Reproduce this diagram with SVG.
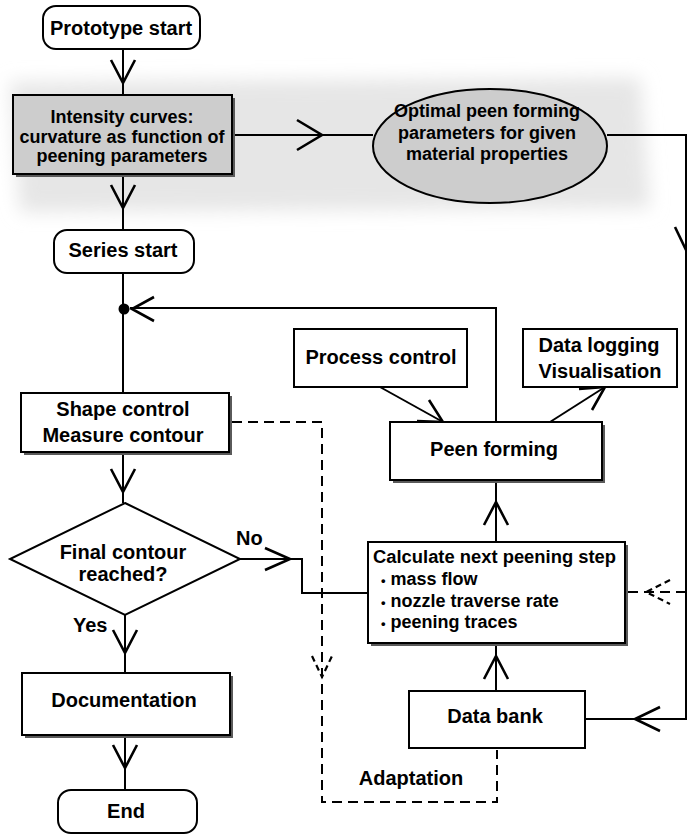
<svg xmlns="http://www.w3.org/2000/svg" width="687" height="836" viewBox="0 0 687 836">
<defs>
<filter id="blur" x="-10%" y="-30%" width="120%" height="160%"><feGaussianBlur stdDeviation="9"/></filter>
<style>
text{font-family:"Liberation Sans",Arial,Helvetica,sans-serif;font-weight:bold;fill:#000;}
.t20{font-size:20px;text-anchor:middle;}
.t18{font-size:18px;text-anchor:middle;}
.box{fill:#fff;stroke:#000;stroke-width:2;}
.gbox{fill:#cdcdcd;stroke:#000;stroke-width:2;}
.sh{fill:#5a5a5a;}
.ln{fill:none;stroke:#000;stroke-width:2;}
.ah{fill:none;stroke:#000;stroke-width:2.6;stroke-linejoin:miter;}
.dl{fill:none;stroke:#000;stroke-width:2;stroke-dasharray:10 6;}
.dah{fill:none;stroke:#000;stroke-width:2.2;stroke-dasharray:6 4;}
</style>
</defs>
<rect width="687" height="836" fill="#fff"/>
<!-- halftone background -->
<path d="M10 82 L640 78 L650 208 L20 212 Z" fill="#e6e6e6" filter="url(#blur)"/>

<g id="connectors">
  <line class="ln" x1="123" y1="49" x2="123" y2="95"/>
  <path class="ah" d="M111 60 L123 83 L135 60"/>
  <line class="ln" x1="123" y1="174" x2="123" y2="230"/>
  <path class="ah" d="M111 185 L123 208 L135 185"/>
  <line class="ln" x1="232" y1="135" x2="373" y2="135"/>
  <path class="ah" d="M297 120 L322 135 L297 150"/>
  <polyline class="ln" points="607,135 686,135 686,719 585,719"/>
  <path class="ah" d="M675 227 L686 250"/>
  <path class="ah" d="M660 707 L635 719 L660 731"/>
  <line class="ln" x1="123" y1="273" x2="123" y2="393"/>
  <circle cx="124" cy="309" r="5.5" fill="#000"/>
  <polyline class="ln" points="496,422 496,308 130,308"/>
  <path class="ah" d="M154 297 L132 309 L154 321"/>
  <line class="ln" x1="123" y1="452" x2="123" y2="503"/>
  <path class="ah" d="M111 469 L123 492 L135 469"/>
  <line class="ln" x1="125" y1="615" x2="125" y2="673"/>
  <path class="ah" d="M113 630 L125 653 L137 630"/>
  <line class="ln" x1="125" y1="735" x2="125" y2="790"/>
  <path class="ah" d="M113 745 L125 768 L137 745"/>
  <polyline class="ln" points="240,559 302,559 302,593 368,593"/>
  <path class="ah" d="M265 548 L290 559 L265 570"/>
  <line class="ln" x1="380" y1="387" x2="443" y2="422"/>
  <path class="ah" d="M417 421 L443 422 L429 400"/>
  <line class="ln" x1="550" y1="422" x2="605" y2="387"/>
  <path class="ah" d="M579 389 L605 387 L592 410"/>
  <line class="ln" x1="496" y1="542" x2="496" y2="482"/>
  <path class="ah" d="M484 525 L496 502 L508 525"/>
  <line class="ln" x1="496" y1="691" x2="496" y2="645"/>
  <path class="ah" d="M484 679 L496 656 L508 679"/>
  <polyline class="dl" points="232,422 322,422 322,802 497,802 497,750"/>
  <path class="dah" d="M312 656 L322 677 L332 656"/>
  <line class="dl" x1="686" y1="592" x2="628" y2="592"/>
  <path class="dah" d="M670 580 L646 592 L670 604"/>
</g>

<g id="prototype-start">
  <rect class="box" x="43" y="6" width="157" height="43" rx="13"/>
  <text class="t20" x="121" y="35">Prototype start</text>
</g>
<g id="intensity-curves">
  <rect class="sh" x="16" y="98" width="219" height="79"/>
  <rect class="gbox" x="13" y="95" width="219" height="79"/>
  <text class="t18" x="122" y="123">Intensity curves:</text>
  <text class="t18" x="122" y="143">curvature as function of</text>
  <text class="t18" x="122" y="162">peening parameters</text>
</g>
<g id="optimal-parameters">
  <ellipse class="gbox" cx="490" cy="146" rx="117" ry="57"/>
  <text class="t18" x="487" y="117">Optimal peen forming</text>
  <text class="t18" x="487" y="139">parameters for given</text>
  <text class="t18" x="487" y="160">material properties</text>
</g>
<g id="series-start">
  <rect class="box" x="54" y="230" width="140" height="43" rx="13"/>
  <text class="t20" x="123" y="257">Series start</text>
</g>
<g id="shape-control">
  <rect class="sh" x="24" y="396" width="208" height="59"/>
  <rect class="box" x="21" y="393" width="208" height="59"/>
  <text class="t20" x="123" y="416">Shape control</text>
  <text class="t20" x="123" y="442">Measure contour</text>
</g>
<g id="final-contour">
  <polygon class="box" points="125,503 240,559 125,615 10,559"/>
  <text class="t20" x="123" y="559">Final contour</text>
  <text class="t20" x="123" y="581">reached?</text>
  <text style="font-size:20px" x="236" y="545">No</text>
  <text style="font-size:20px" x="73" y="632">Yes</text>
</g>
<g id="documentation">
  <rect class="sh" x="25" y="676" width="208" height="62"/>
  <rect class="box" x="22" y="673" width="208" height="62"/>
  <text class="t20" x="124" y="707">Documentation</text>
</g>
<g id="end">
  <rect class="box" x="58" y="790" width="139" height="43" rx="13"/>
  <text class="t20" x="126" y="818">End</text>
</g>
<g id="process-control">
  <rect class="box" x="294" y="329" width="173" height="58"/>
  <text class="t20" x="381" y="364">Process control</text>
</g>
<g id="data-logging">
  <rect class="box" x="523" y="329" width="154" height="58"/>
  <text class="t20" x="599" y="352">Data logging</text>
  <text class="t20" x="600" y="378">Visualisation</text>
</g>
<g id="peen-forming">
  <rect class="sh" x="393" y="425" width="212" height="58"/>
  <rect class="box" x="390" y="422" width="212" height="58"/>
  <text class="t20" x="494" y="456">Peen forming</text>
</g>
<g id="calculate-step">
  <rect class="sh" x="371" y="545" width="257" height="101"/>
  <rect class="box" x="368" y="542" width="257" height="101"/>
  <text style="font-size:18px" x="373" y="563" textLength="243" lengthAdjust="spacingAndGlyphs">Calculate next peening step</text>
  <text style="font-size:18px" x="381" y="585"><tspan font-size="13">•</tspan> mass flow</text>
  <text style="font-size:18px" x="381" y="607"><tspan font-size="13">•</tspan> nozzle traverse rate</text>
  <text style="font-size:18px" x="381" y="628"><tspan font-size="13">•</tspan> peening traces</text>
</g>
<g id="data-bank">
  <rect class="box" x="409" y="691" width="176" height="57"/>
  <text class="t20" x="495" y="723">Data bank</text>
</g>
<g id="adaptation-label">
  <text class="t20" x="411" y="785">Adaptation</text>
</g>
</svg>
